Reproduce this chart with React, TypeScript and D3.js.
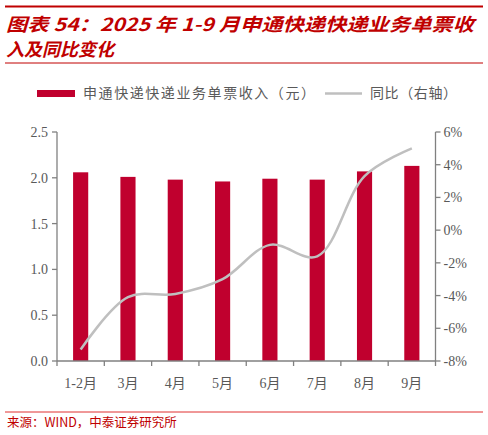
import React, { useEffect } from "react";
import * as d3 from "d3";

const months = ["1-2月", "3月", "4月", "5月", "6月", "7月", "8月", "9月"];
const revenue = [2.06, 2.01, 1.98, 1.96, 1.99, 1.98, 2.07, 2.13];
const yoy = [-7.3, -4.1, -3.9, -3.0, -0.9, -1.6, 3.3, 5.0];
const leftTicks = [0, 0.5, 1.0, 1.5, 2.0, 2.5];
const rightTicks = [-8, -6, -4, -2, 0, 2, 4, 6];

const W = 488;
const H = 435;
const plot = { left: 57, right: 435.5, top: 132, bottom: 361 };
const red = "#c0002e";
const titleRed = "#c00000";
const grey = "#808080";
const textGrey = "#595959";
const cjk = "'Noto Sans CJK SC', sans-serif";
const serif = "'Liberation Serif', 'Noto Sans CJK SC', serif";

export default function App() {
  useEffect(() => {
    document.body.style.margin = "0";
  }, []);

  const x = d3.scaleBand<string>().domain(months).range([plot.left, plot.right]).paddingInner(0.68).paddingOuter(0.34);
  const xTick = d3.scaleLinear().domain([0, months.length]).range([plot.left, plot.right]);
  const yL = d3.scaleLinear().domain([0, 2.5]).range([plot.bottom, plot.top]);
  const yR = d3.scaleLinear().domain([-8, 6]).range([plot.bottom, plot.top]);

  const line = d3
    .line<number>()
    .x((_, i) => (x(months[i]) as number) + x.bandwidth() / 2)
    .y((d) => yR(d))
    .curve(d3.curveCatmullRom.alpha(0.5));

  return (
    <svg width={W} height={H} style={{ display: "block" }}>
      <rect width={W} height={H} fill="#fff" />
      {/* header */}
      <line x1={5} x2={483} y1={6.5} y2={6.5} stroke={titleRed} strokeWidth={2} />
      <g fill={titleRed} fontFamily={cjk} fontWeight="bold" fontStyle="italic" fontSize={18}>
        <text x={6} y={31} textLength={468} lengthAdjust="spacingAndGlyphs">
          图表 54：2025 年 1-9 月申通快递快递业务单票收
        </text>
        <text x={6} y={56}>入及同比变化</text>
      </g>
      <line x1={5} x2={483} y1={63} y2={63} stroke={titleRed} strokeWidth={1} />

      {/* legend */}
      <rect x={37} y={90} width={38} height={7} fill={red} />
      <text x={83} y={98} fontFamily={cjk} fontSize={14} fill={textGrey} textLength={232}>
        申通快递快递业务单票收入（元）
      </text>
      <line x1={325} x2={362} y1={93.5} y2={93.5} stroke="#bfbfbf" strokeWidth={2.5} />
      <text x={370} y={98} fontFamily={cjk} fontSize={14} fill={textGrey} textLength={87}>
        同比（右轴）
      </text>

      {/* bars */}
      {revenue.map((v, i) => (
        <rect key={i} x={x(months[i])} y={yL(v)} width={x.bandwidth()} height={yL(0) - yL(v)} fill={red} />
      ))}

      {/* line */}
      <path d={line(yoy) || ""} fill="none" stroke="#bfbfbf" strokeWidth={2.5} />

      {/* axes */}
      <g stroke={grey} strokeWidth={1.3}>
        <line x1={plot.left} x2={plot.left} y1={plot.top} y2={plot.bottom} />
        <line x1={plot.right} x2={plot.right} y1={plot.top} y2={plot.bottom} />
        <line x1={plot.left} x2={plot.right} y1={plot.bottom} y2={plot.bottom} />
        {leftTicks.map((t) => (
          <line key={"l" + t} x1={plot.left - 5} x2={plot.left} y1={yL(t)} y2={yL(t)} />
        ))}
        {rightTicks.map((t) => (
          <line key={"r" + t} x1={plot.right} x2={plot.right + 5} y1={yR(t)} y2={yR(t)} />
        ))}
        {d3.range(months.length + 1).map((i) => (
          <line key={"x" + i} x1={xTick(i)} x2={xTick(i)} y1={plot.bottom} y2={plot.bottom + 5} />
        ))}
      </g>
      <g fontFamily={serif} fontSize={14} fill={textGrey}>
        {leftTicks.map((t) => (
          <text key={"lt" + t} x={plot.left - 9} y={yL(t) + 5} textAnchor="end">
            {t.toFixed(1)}
          </text>
        ))}
        {rightTicks.map((t) => (
          <text key={"rt" + t} x={plot.right + 8} y={yR(t) + 5}>
            {t + "%"}
          </text>
        ))}
        {months.map((m) => (
          <text key={m} x={(x(m) as number) + x.bandwidth() / 2} y={388} textAnchor="middle">
            {m}
          </text>
        ))}
      </g>

      {/* source */}
      <line x1={5} x2={483} y1={412} y2={412} stroke="#e03030" strokeWidth={1} />
      <text x={7} y={427} fontFamily={cjk} fontSize={12.5} fill={titleRed}>
        来源：WIND，中泰证券研究所
      </text>
    </svg>
  );
}
